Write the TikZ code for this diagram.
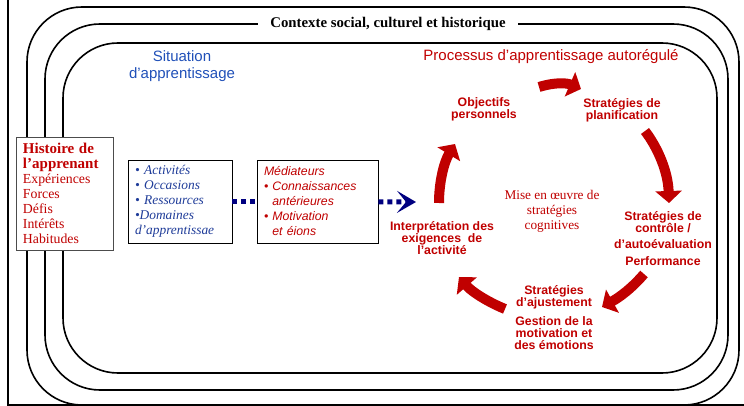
\documentclass[tikz,border=0pt]{standalone}
\usepackage{fontspec}
\setmainfont{Liberation Serif}
\setsansfont{Liberation Sans}
\usetikzlibrary{arrows.meta}
\definecolor{cred}{HTML}{C00000}
\definecolor{cblue}{HTML}{1F3C99}
\definecolor{sblue}{HTML}{2050B8}
\definecolor{navy}{HTML}{000080}
\begin{document}
\begin{tikzpicture}[x=1pt,y=-1pt,
  ring/.style={line width=1.6pt, rounded corners=55pt},
  framel/.style={line width=1.8pt},
  box/.style={draw, fill=white, line width=0.9pt, align=left, inner xsep=7pt, inner ysep=0pt},
  lbl/.style={font=\sffamily\bfseries\fontsize{12.3}{12}\selectfont, text=cred, align=center, inner sep=0pt},
  redarr/.style={draw=cred, line width=10pt, -{Triangle[length=12pt,width=26pt]}},
  dotline/.style={draw=navy, line width=5pt, dash pattern=on 5pt off 4pt}
]
\useasboundingbox (0,0) rectangle (744,406);
% frame
\draw[framel] (8,0) -- (8,405) -- (744,405);
% rings
\draw[ring] (27,7) rectangle (739,405);
\draw[ring] (45,24) rectangle (728,390);
\draw[ring] (63,43) rectangle (717,373);
\node[fill=white, inner xsep=12pt, inner ysep=2pt, font=\bfseries\fontsize{14.8}{14}\selectfont] (ctx) at (388,24) {Contexte social, culturel et historique};

% titles
\node[font=\sffamily\fontsize{15}{17}\selectfont, text=sblue, align=center, inner sep=0pt] (sit) at (182,66) {Situation\\d'apprentissage};
\node[font=\sffamily\fontsize{15}{17}\selectfont, text=cred, inner sep=0pt] (proc) at (551,57) {Processus d'apprentissage autorégulé};

% boxes
\node[box, draw=gray!60!black, text width=83pt, minimum height=113pt, text=cred,
  font=\fontsize{13.8}{15}\selectfont] (hist) at (64.5,193.5)
  {{\fontsize{15}{15}\selectfont\bfseries Histoire de}\\{\fontsize{15}{15}\selectfont\bfseries l'apprenant}\\Expériences\\Forces\\Défis\\Intérêts\\Habitudes};
\node[box, text width=90pt, minimum height=83pt, text=cblue,
  font=\itshape\fontsize{13.4}{15}\selectfont] (act) at (180,201.5)
  {• Activités\\• Occasions\\• Ressources\\•Domaines\\d'apprentissae};
\node[box, text width=107pt, minimum height=83pt, text=cred,
  font=\sffamily\itshape\fontsize{12.3}{15}\selectfont] (med) at (317.5,201.5)
  {Médiateurs\\• Connaissances\\\phantom{• }antérieures\\• Motivation\\\phantom{• }et éions};

% dotted connectors
\coordinate (tip) at (416,202);
\draw[dotline] (act) -- (med);
\draw[dotline, -{Stealth[length=19pt,width=22pt,inset=9pt]}] (med) -- (tip);

% cycle labels
\node[lbl] (interp) at (442,238) {Interprétation des\\exigences\ \ de\\l'activité};
\node[lbl] (obj) at (484,109) {Objectifs\\personnels};
\node[lbl] (plan) at (622,110) {Stratégies de\\planification};
\node[lbl] (ctrl) at (663,239) {Stratégies de\\contrôle /\\[4pt]d'autoévaluation\\[5pt]Performance};
\node[lbl] (ajust) at (554,318) {Stratégies\\d'ajustement\\[7pt]Gestion de la\\motivation et\\des émotions};
\node[font=\fontsize{13.3}{15}\selectfont, text=cred, align=center, inner sep=0pt] (mise) at (552,211) {Mise en œuvre de\\stratégies\\cognitives};

% red cycle arrows
\coordinate (a1s) at (539,87);  \coordinate (a1e) at (581,89);
\coordinate (a2s) at (645,131); \coordinate (a2e) at (669,203);
\coordinate (a3s) at (644,274); \coordinate (a3e) at (602,307);
\coordinate (a4s) at (505,309); \coordinate (a4e) at (459,277);
\coordinate (a5s) at (439,203); \coordinate (a5e) at (455,144);
\draw[redarr] (a1s) .. controls (555,82) and (567,83) .. (a1e);
\draw[redarr] (a2s) .. controls (658,148) and (668,172) .. (a2e);
\draw[redarr] (a3s) .. controls (632,288) and (620,297) .. (a3e);
\draw[redarr] (a4s) .. controls (488,302) and (472,292) .. (a4e);
\draw[redarr] (a5s) .. controls (439,182) and (444,162) .. (a5e);
\end{tikzpicture}
\end{document}
